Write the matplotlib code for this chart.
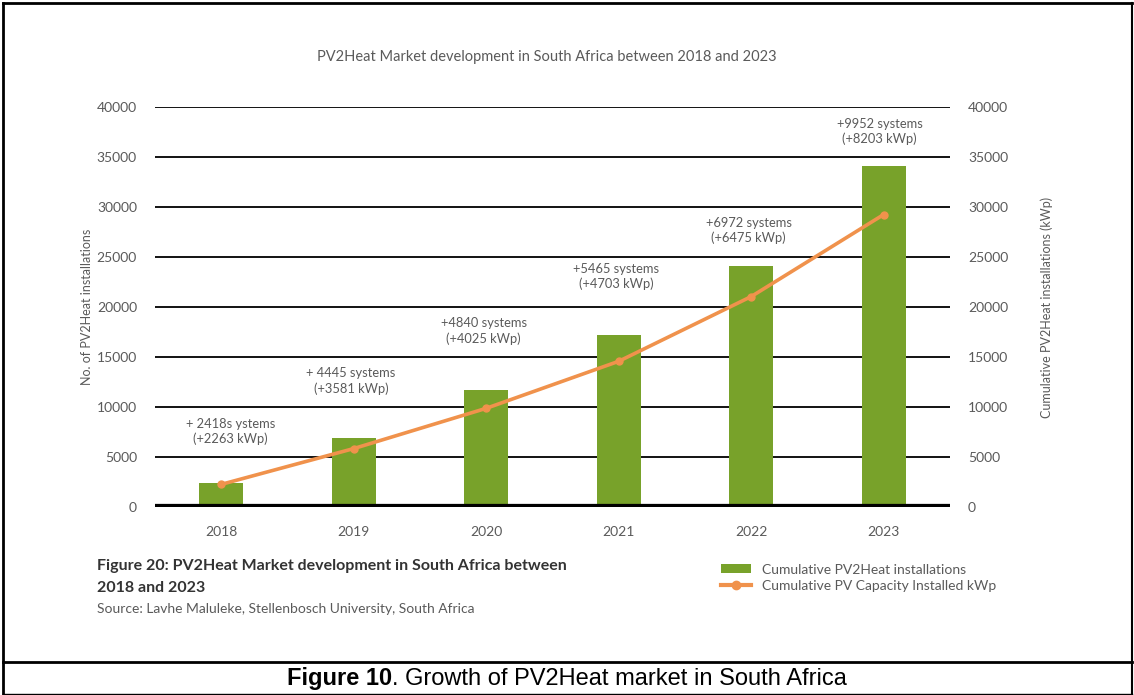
import numpy as np
import matplotlib
matplotlib.use("Agg")
import matplotlib.pyplot as plt
from matplotlib.lines import Line2D
from matplotlib.patches import Patch

# ---- data -------------------------------------------------------------
years = ["2018", "2019", "2020", "2021", "2022", "2023"]
new_systems = [2418, 4445, 4840, 5465, 6972, 9952]          # added per year
new_kwp = [2263, 3581, 4025, 4703, 6475, 8203]              # added per year (kWp)
system_labels = ["+ 2418s ystems", "+ 4445 systems", "+4840 systems",
                 "+5465 systems", "+6972 systems", "+9952 systems"]
kwp_labels = ["(+2263 kWp)", "(+3581 kWp)", "(+4025 kWp)",
              "(+4703 kWp)", "(+6475 kWp)", "(+8203 kWp)"]
yticks = [0, 5000, 10000, 15000, 20000, 25000, 30000, 35000, 40000]

cum_systems = np.cumsum(new_systems)
cum_kwp = np.cumsum(new_kwp)

# ---- style ------------------------------------------------------------
GREEN = "#78a22a"
ORANGE = "#f0924c"
TXT = "#5a5a5a"
FONT = "Lato"

W, H = 1134, 695
fig = plt.figure(figsize=(W / 100, H / 100), dpi=100)

def fx(px):
    return px / W

def fy(py):
    return 1 - py / H

ax = fig.add_axes([fx(155), fy(507), fx(950) - fx(155), fy(107) - fy(507)])
ax2 = ax.twinx()

x = np.arange(len(years))
ax.set_xlim(-0.5, len(years) - 0.5)
ax.set_ylim(0, 40000)
ax2.set_ylim(0, 40000)

for v in yticks[1:]:
    ax.axhline(v, color="black", lw=1.3, zorder=1)
ax.axhline(0, color="black", lw=4.5, zorder=4)

ax.bar(x, cum_systems, width=0.33, color=GREEN, zorder=2)
ax2.plot(x, cum_kwp, color=ORANGE, lw=2.6, marker="o", markersize=5,
         zorder=3)

# annotations above each bar (two lines: systems / kWp)
label_mid = [7550, 12600, 17600, 23050, 27650, 37550]
label_dx = [0.07, -0.02, -0.02, -0.02, -0.02, -0.03]
for i in range(len(years)):
    ax.text(x[i] + label_dx[i], label_mid[i],
            system_labels[i] + "\n" + kwp_labels[i],
            ha="center", va="center", fontsize=9.3, color=TXT,
            family=FONT, linespacing=1.25, zorder=5)

for a in (ax, ax2):
    for s in a.spines.values():
        s.set_visible(False)
    a.tick_params(length=0, labelsize=10, labelcolor=TXT)
    a.set_yticks(yticks)
    a.set_yticklabels([str(v) for v in yticks], family=FONT)

ax.tick_params(axis="y", pad=13)
ax2.tick_params(axis="y", pad=13)
ax.set_xticks(x)
ax.set_xticklabels(years, family=FONT)
ax.tick_params(axis="x", pad=14)

ax.set_ylabel("No. of PV2Heat installations", fontsize=9, color=TXT,
              family=FONT, labelpad=3)
ax2.set_ylabel("Cumulative PV2Heat installations (kWp)", fontsize=9,
               color=TXT, family=FONT, labelpad=23)

fig.text(fx(547), fy(57), "PV2Heat Market development in South Africa between 2018 and 2023",
         ha="center", va="center", fontsize=10.5, color=TXT, family=FONT)

# legend
handles = [Patch(facecolor=GREEN, edgecolor="none"),
           Line2D([0], [0], color=ORANGE, lw=3, marker="o", markersize=6)]
fig.legend(handles, ["Cumulative PV2Heat installations",
                     "Cumulative PV Capacity Installed kWp"],
           loc="upper left", bbox_to_anchor=(fx(708), fy(551)),
           frameon=False, handlelength=2.2, handleheight=0.6,
           labelspacing=0.3, handletextpad=0.8,
           prop={"family": FONT, "size": 10}, labelcolor=TXT)

# figure caption block
fig.text(fx(97), fy(566), "Figure 20: PV2Heat Market development in South Africa between",
         ha="left", va="center", fontsize=11.5, fontweight="bold",
         color="#333333", family=FONT)
fig.text(fx(97), fy(588), "2018 and 2023", ha="left", va="center",
         fontsize=11.5, fontweight="bold", color="#333333", family=FONT)
fig.text(fx(97), fy(609), "Source: Lavhe Maluleke, Stellenbosch University, South Africa",
         ha="left", va="center", fontsize=10, color=TXT, family=FONT)

# outer frame and bottom caption
frame = dict(color="black", transform=fig.transFigure)
fig.add_artist(Line2D([fx(3), fx(3)], [fy(3), fy(694)], lw=2, **frame))
fig.add_artist(Line2D([fx(3), fx(1132)], [fy(3), fy(3)], lw=2, **frame))
fig.add_artist(Line2D([fx(1132), fx(1132)], [fy(3), fy(694)], lw=1.5, **frame))
fig.add_artist(Line2D([fx(3), fx(1132)], [fy(662), fy(662)], lw=2, **frame))
fig.add_artist(Line2D([fx(3), fx(1132)], [fy(694), fy(694)], lw=1, **frame))

# bottom caption: bold lead-in followed by regular text, centred as a whole
cap_kw = dict(va="center", fontsize=17, family="Liberation Sans", color="black")
bold_part = fig.text(0, fy(679), "Figure 10", fontweight="bold", ha="left", **cap_kw)
rest_part = fig.text(0, fy(679), ". Growth of PV2Heat market in South Africa",
                     ha="left", **cap_kw)
renderer = fig.canvas.get_renderer()
wb = bold_part.get_window_extent(renderer).width
wr = rest_part.get_window_extent(renderer).width
start = (W - (wb + wr)) / 2
bold_part.set_x(fx(start))
rest_part.set_x(fx(start + wb))

fig.savefig("out.png", dpi=100, facecolor="white")
